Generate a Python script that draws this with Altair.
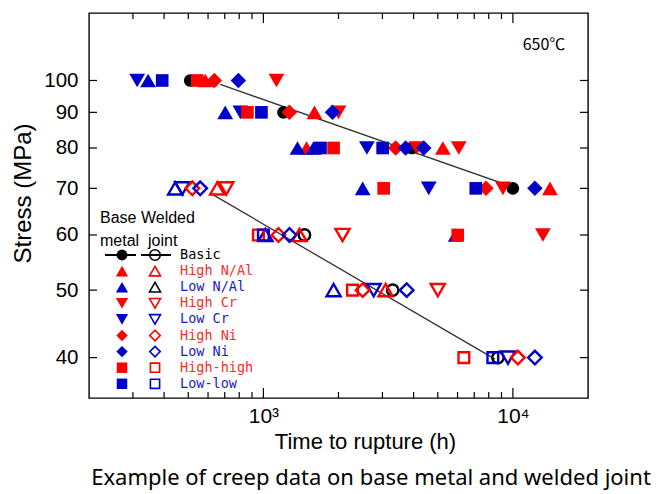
import altair as alt
import pandas as pd

# ---------------- series definitions ----------------
series_names = ["Basic", "High N/Al", "Low N/Al", "High Cr", "Low Cr",
                "High Ni", "Low Ni", "High-high", "Low-low"]
series_shapes = ["circle", "triangle-up", "triangle-up", "triangle-down", "triangle-down",
                 "diamond", "diamond", "square", "square"]
series_colors = ["#000000", "#ff0000", "#0000cc", "#ff0000", "#0000cc",
                 "#ff0000", "#0000cc", "#ff0000", "#0000cc"]
legend_open_colors = ["#000000", "#ff0000", "#000000", "#ff0000", "#0000cc",
                      "#ff0000", "#0000cc", "#ff0000", "#0000cc"]
legend_text_colors = ["#000000", "#ff2a2a", "#1a1acc", "#ff2a2a", "#1a1acc",
                      "#ff2a2a", "#1a1acc", "#ff2a2a", "#1a1acc"]

# ---------------- base metal (filled markers) ----------------
base_basic_time = [509, 1203, 3930, 10000]
base_basic_stress = [100, 90, 80, 70]
base_high_nal_time = [585, 1602, 1490, 5240, 14080]
base_high_nal_stress = [100, 90, 80, 80, 70]
base_low_nal_time = [345, 703, 1370, 1588, 2500, 5900]
base_low_nal_stress = [100, 90, 80, 80, 70, 60]
base_high_cr_time = [1128, 2000, 4115, 6070, 9120, 13190]
base_high_cr_stress = [100, 90, 80, 80, 70, 60]
base_low_cr_time = [312, 809, 2600, 4600]
base_low_cr_stress = [100, 90, 80, 70]
base_high_ni_time = [636, 1271, 3388, 7800]
base_high_ni_stress = [100, 90, 80, 70]
base_low_ni_time = [794, 1892, 3715, 4393, 12250]
base_low_ni_stress = [100, 90, 80, 80, 70]
base_high_high_time = [543, 863, 1911, 3034, 6010]
base_high_high_stress = [100, 90, 80, 70, 60]
base_low_low_time = [393, 982, 1694, 3006, 7100]
base_low_low_stress = [100, 90, 80, 80, 70]

# ---------------- welded joint (open markers) ----------------
weld_basic_time = [1461, 3297, 8710]
weld_basic_stress = [60, 50, 40]
weld_high_nal_time = [653, 1395, 3090]
weld_high_nal_stress = [70, 60, 50]
weld_low_nal_time = [443, 1019, 1911]
weld_low_nal_stress = [70, 60, 50]
weld_high_cr_time = [710, 2076, 5000]
weld_high_cr_stress = [70, 60, 50]
weld_low_cr_time = [473, 2766, 9550]
weld_low_cr_stress = [70, 50, 40]
weld_high_ni_time = [519, 1149, 2500, 10470]
weld_high_ni_stress = [70, 60, 50, 40]
weld_low_ni_time = [558, 1272, 3752, 12250]
weld_low_ni_stress = [70, 60, 50, 40]
weld_high_high_time = [955, 2276, 6360]
weld_high_high_stress = [60, 50, 40]
weld_low_low_time = [1000, 8310]
weld_low_low_stress = [60, 40]

# ---------------- trend lines ----------------
base_fit_time = [672, 10000]
base_fit_stress = [98.7, 70.3]
weld_fit_time = [612, 8475]
weld_fit_stress = [68.9, 39.8]

# ---------------- axis ticks ----------------
x_major_ticks = [1000, 10000]
x_minor_ticks = [300, 400, 500, 600, 700, 800, 900,
                 2000, 3000, 4000, 5000, 6000, 7000, 8000, 9000]
y_ticks = [40, 50, 60, 70, 80, 90, 100]

# ---------------- build tables ----------------
base_sets = [
    ("Basic", base_basic_time, base_basic_stress),
    ("High N/Al", base_high_nal_time, base_high_nal_stress),
    ("Low N/Al", base_low_nal_time, base_low_nal_stress),
    ("High Cr", base_high_cr_time, base_high_cr_stress),
    ("Low Cr", base_low_cr_time, base_low_cr_stress),
    ("High Ni", base_high_ni_time, base_high_ni_stress),
    ("Low Ni", base_low_ni_time, base_low_ni_stress),
    ("High-high", base_high_high_time, base_high_high_stress),
    ("Low-low", base_low_low_time, base_low_low_stress),
]
weld_sets = [
    ("Basic", weld_basic_time, weld_basic_stress),
    ("High N/Al", weld_high_nal_time, weld_high_nal_stress),
    ("Low N/Al", weld_low_nal_time, weld_low_nal_stress),
    ("High Cr", weld_high_cr_time, weld_high_cr_stress),
    ("Low Cr", weld_low_cr_time, weld_low_cr_stress),
    ("High Ni", weld_high_ni_time, weld_high_ni_stress),
    ("Low Ni", weld_low_ni_time, weld_low_ni_stress),
    ("High-high", weld_high_high_time, weld_high_high_stress),
    ("Low-low", weld_low_low_time, weld_low_low_stress),
]

filled_size = {"circle": 160, "triangle-up": 250, "triangle-down": 250, "diamond": 240, "square": 160}
open_size = {"circle": 130, "triangle-up": 200, "triangle-down": 200, "diamond": 185, "square": 115}
shape_of = dict(zip(series_names, series_shapes))


def table(sets, sizes):
    rows = []
    for name, ts, ss in sets:
        for t, s in zip(ts, ss):
            rows.append({"series": name, "time": t, "stress": s, "sz": sizes[shape_of[name]]})
    return pd.DataFrame(rows)


base_df = table(base_sets, filled_size)
weld_df = table(weld_sets, open_size)
fit_df = pd.concat([
    pd.DataFrame({"line": "base", "time": base_fit_time, "stress": base_fit_stress}),
    pd.DataFrame({"line": "weld", "time": weld_fit_time, "stress": weld_fit_stress}),
])

W, H = 499, 385
FONT = "Liberation Sans"

xs = alt.Scale(type="log", domain=[200, 20000], nice=False)
ys = alt.Scale(type="log", domain=[35, 125], nice=False)

x_axis = alt.Axis(values=x_major_ticks,
                  labelExpr="datum.value == 1000 ? '10³' : (datum.value == 10000 ? '10⁴' : '')",
                  ticks=False, domain=False, grid=False, labelFlush=False,
                  labelFont=FONT, labelFontSize=21, labelColor="black", labelPadding=7,
                  title="Time to rupture (h)", titleFont=FONT, titleFontSize=22,
                  titleFontWeight="normal", titleColor="black",
                  titleX=276, titleY=50, titleAlign="center", titleBaseline="alphabetic")
y_axis = alt.Axis(values=y_ticks, ticks=False, domain=False, grid=False, labelFlush=False,
                  labelFont=FONT, labelFontSize=20.5, labelColor="black", labelPadding=11,
                  title="Stress (MPa)", titleFont=FONT, titleFontSize=24,
                  titleFontWeight="normal", titleColor="black",
                  titleX=-66, titleY=180, titleAngle=270, titleAlign="center",
                  titleBaseline="middle")

X = alt.X("time:Q", scale=xs, axis=x_axis)
Y = alt.Y("stress:Q", scale=ys, axis=y_axis)

shape_scale = alt.Scale(domain=series_names, range=series_shapes)
color_scale = alt.Scale(domain=series_names, range=series_colors)

fit_layer = alt.Chart(fit_df).mark_line(color="#333333", strokeWidth=1.3).encode(
    x=X, y=Y, detail="line:N")

base_layer = alt.Chart(base_df).mark_point(filled=True, opacity=1, strokeWidth=0).encode(
    x=X, y=Y,
    shape=alt.Shape("series:N", scale=shape_scale, legend=None),
    color=alt.Color("series:N", scale=color_scale, legend=None),
    size=alt.Size("sz:Q", scale=None),
)
weld_layer = alt.Chart(weld_df).mark_point(filled=False, opacity=1, strokeWidth=2.4).encode(
    x=X, y=Y,
    shape=alt.Shape("series:N", scale=shape_scale, legend=None),
    color=alt.Color("series:N", scale=color_scale, legend=None),
    size=alt.Size("sz:Q", scale=None),
)

# ---------------- inward ticks on all four sides ----------------
xmaj_df = pd.DataFrame({"time": x_major_ticks})
xmin_df = pd.DataFrame({"time": x_minor_ticks})
ytk_df = pd.DataFrame({"stress": y_ticks})
tick_style = dict(color="black", strokeWidth=1.2)
ticks = [
    alt.Chart(xmaj_df).mark_rule(**tick_style).encode(x=X, y=alt.value(H), y2=alt.value(H - 10)),
    alt.Chart(xmaj_df).mark_rule(**tick_style).encode(x=X, y=alt.value(0), y2=alt.value(10)),
    alt.Chart(xmin_df).mark_rule(**tick_style).encode(x=X, y=alt.value(H), y2=alt.value(H - 6)),
    alt.Chart(xmin_df).mark_rule(**tick_style).encode(x=X, y=alt.value(0), y2=alt.value(6)),
    alt.Chart(ytk_df).mark_rule(**tick_style).encode(y=Y, x=alt.value(0), x2=alt.value(8)),
    alt.Chart(ytk_df).mark_rule(**tick_style).encode(y=Y, x=alt.value(W), x2=alt.value(W - 8)),
]

# ---------------- custom in-plot legend ----------------
leg_df = pd.DataFrame({
    "i": list(range(len(series_names))),
    "name": series_names,
    "shape": series_shapes,
    "fill": series_colors,
    "open": legend_open_colors,
    "tcol": legend_text_colors,
})
leg_df["fsz"] = [{"circle": 120, "triangle-up": 150, "triangle-down": 150, "diamond": 130, "square": 110}[s]
                 for s in series_shapes]
leg_df["osz"] = [{"circle": 110, "triangle-up": 120, "triangle-down": 120, "diamond": 110, "square": 85}[s]
                 for s in series_shapes]

leg_base = alt.Chart(leg_df).transform_calculate(ly="242 + datum.i * 16.1")
leg_filled = leg_base.mark_point(filled=True, opacity=1, strokeWidth=0).encode(
    x=alt.value(33), y=alt.Y("ly:Q", scale=None),
    shape=alt.Shape("shape:N", scale=None),
    color=alt.Color("fill:N", scale=None),
    size=alt.Size("fsz:Q", scale=None))
leg_open = leg_base.mark_point(filled=False, opacity=1, strokeWidth=1.6).encode(
    x=alt.value(66), y=alt.Y("ly:Q", scale=None),
    shape=alt.Shape("shape:N", scale=None),
    color=alt.Color("open:N", scale=None),
    size=alt.Size("osz:Q", scale=None))
leg_text = leg_base.mark_text(align="left", baseline="middle", font="DejaVu Sans Mono",
                              fontSize=13.5).encode(
    x=alt.value(91), y=alt.Y("ly:Q", scale=None),
    text="name:N", color=alt.Color("tcol:N", scale=None))
leg_line1 = alt.Chart(leg_df.head(1)).mark_rule(color="black", strokeWidth=2).encode(
    x=alt.value(16), x2=alt.value(47), y=alt.value(242))
leg_line2 = alt.Chart(leg_df.head(1)).mark_rule(color="black", strokeWidth=2).encode(
    x=alt.value(52), x2=alt.value(82), y=alt.value(242))

header_df = pd.DataFrame({"t": ["Base Welded", "metal\u00a0\u00a0joint"], "k": [0, 1]})
leg_header = alt.Chart(header_df).transform_calculate(hy="205 + datum.k * 23").mark_text(
    align="left", baseline="middle", font=FONT, fontSize=16, color="black").encode(
    x=alt.value(11), y=alt.Y("hy:Q", scale=None), text="t:N")

# ---------------- annotations ----------------
temp_df = pd.DataFrame({"t": ["650℃"]})
temp_text = alt.Chart(temp_df).mark_text(font="Noto Sans CJK JP", fontSize=16,
                                         color="black", align="center", baseline="middle").encode(
    x=alt.value(455), y=alt.value(32), text="t:N")
cap_df = pd.DataFrame({"t": ["Example of creep data on base metal and welded joint"]})
caption = alt.Chart(cap_df).mark_text(font="Noto Sans", fontSize=22, color="black",
                                      align="center", baseline="middle").encode(
    x=alt.value(282), y=alt.value(465), text="t:N")

chart = alt.layer(
    fit_layer, *ticks, base_layer, weld_layer,
    leg_line1, leg_line2, leg_filled, leg_open, leg_text, leg_header,
    temp_text, caption,
).properties(
    width=W, height=H,
    autosize=alt.AutoSizeParams(type="none"),
    padding={"left": 89, "top": 13, "right": 70, "bottom": 96},
    background="white",
).configure_view(stroke="black", strokeWidth=1.4)

chart.save("out.html", embed_options={"renderer": "svg", "actions": False})
